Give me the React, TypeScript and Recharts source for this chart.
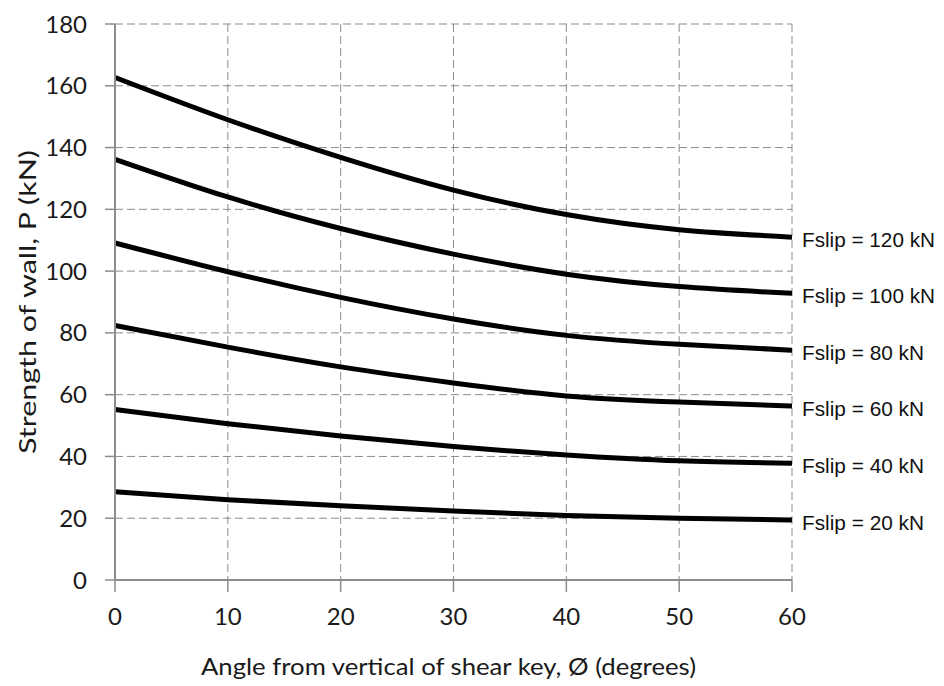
import React from 'react'
import { LineChart, Line, XAxis, YAxis, CartesianGrid, Label } from 'recharts'

// angle from vertical of shear key (degrees)
const angles = [0, 10, 20, 30, 40, 50, 60]

// strength of wall P (kN), one list per slip force
const p120 = [162.7, 149, 136.8, 126.2, 118.3, 113.4, 111]
const p100 = [136.2, 124, 113.8, 105.5, 99, 95, 92.8]
const p80 = [109.1, 99.8, 91.5, 84.5, 79.2, 76.3, 74.4]
const p60 = [82.4, 75.4, 69, 63.8, 59.6, 57.6, 56.3]
const p40 = [55.2, 50.6, 46.6, 43.2, 40.5, 38.6, 37.8]
const p20 = [28.6, 26, 24, 22.3, 20.9, 20, 19.4]

const seriesKeys = ['f120', 'f100', 'f80', 'f60', 'f40', 'f20']
const seriesNames = ['Fslip = 120 kN', 'Fslip = 100 kN', 'Fslip = 80 kN', 'Fslip = 60 kN', 'Fslip = 40 kN', 'Fslip = 20 kN']
const seriesValues = [p120, p100, p80, p60, p40, p20]

const xTicks = [0, 10, 20, 30, 40, 50, 60]
const yTicks = [0, 20, 40, 60, 80, 100, 120, 140, 160, 180]

const data = angles.map((a, i) => {
  const row: Record<string, number> = { angle: a }
  seriesKeys.forEach((k, s) => { row[k] = seriesValues[s][i] })
  return row
})

const AXIS = '#8c8c8c'
const TEXT = '#1a1a1a'
const TICK_FONT = 'Lato, "Open Sans", sans-serif'

function EndLabel(props: any) {
  const { x, y, index, value, name } = props
  if (index !== angles.length - 1 || value == null) return null
  const short = String(name).length < 14
  return (
    <text
      x={x + 10}
      y={y + 4}
      dominantBaseline="middle"
      fontFamily='"Liberation Sans", Arial, sans-serif'
      fontSize={21}
      fill="#111"
      textLength={short ? 122 : 133}
      lengthAdjust="spacingAndGlyphs"
    >
      {name}
    </text>
  )
}

function XTitle({ viewBox }: any) {
  return (
    <text
      x={viewBox.x + viewBox.width / 2 - 5}
      y={viewBox.y + 95}
      textAnchor="middle"
      fontFamily={TICK_FONT}
      fontSize={24}
      fill={TEXT}
      textLength={495}
      lengthAdjust="spacingAndGlyphs"
    >
      Angle from vertical of shear key, Ø (degrees)
    </text>
  )
}

function YTitle({ viewBox }: any) {
  const cx = 26
  const cy = viewBox.y + viewBox.height / 2
  return (
    <text
      x={cx}
      y={cy}
      transform={`rotate(-90 ${cx} ${cy})`}
      textAnchor="middle"
      dominantBaseline="central"
      fontFamily={TICK_FONT}
      fontSize={24}
      fill={TEXT}
      textLength={304}
      lengthAdjust="spacingAndGlyphs"
    >
      Strength of wall, P (kN)
    </text>
  )
}

export default function App() {
  return (
    <div style={{ position: 'absolute', left: 0, top: 0, width: 944, height: 686, background: '#fff' }}>
      <LineChart width={944} height={686} data={data} margin={{ top: 24, right: 152, left: 0, bottom: 0 }}>
        <CartesianGrid stroke={AXIS} strokeDasharray="8 4" />
        <XAxis
          dataKey="angle"
          type="number"
          domain={[0, 60]}
          ticks={xTicks}
          axisLine={{ stroke: AXIS, strokeWidth: 2 }}
          tickLine={{ stroke: AXIS, strokeWidth: 1.5 }}
          tickSize={12}
          tickMargin={16}
          tick={{ fill: TEXT, fontSize: 24, fontFamily: TICK_FONT }}
          height={106}
        >
          <Label content={XTitle} />
        </XAxis>
        <YAxis
          type="number"
          domain={[0, 180]}
          ticks={yTicks}
          axisLine={{ stroke: AXIS, strokeWidth: 2 }}
          tickLine={{ stroke: AXIS, strokeWidth: 1.5 }}
          tickSize={10}
          tickMargin={18}
          tick={{ fill: TEXT, fontSize: 24, fontFamily: TICK_FONT }}
          width={115}
        >
          <Label content={YTitle} />
        </YAxis>
        {seriesKeys.map((k, s) => (
          <Line
            key={k}
            dataKey={k}
            name={seriesNames[s]}
            type="natural"
            stroke="#000"
            strokeWidth={5}
            dot={false}
            isAnimationActive={false}
            label={(p: any) => <EndLabel {...p} name={seriesNames[s]} />}
          />
        ))}
      </LineChart>
    </div>
  )
}
